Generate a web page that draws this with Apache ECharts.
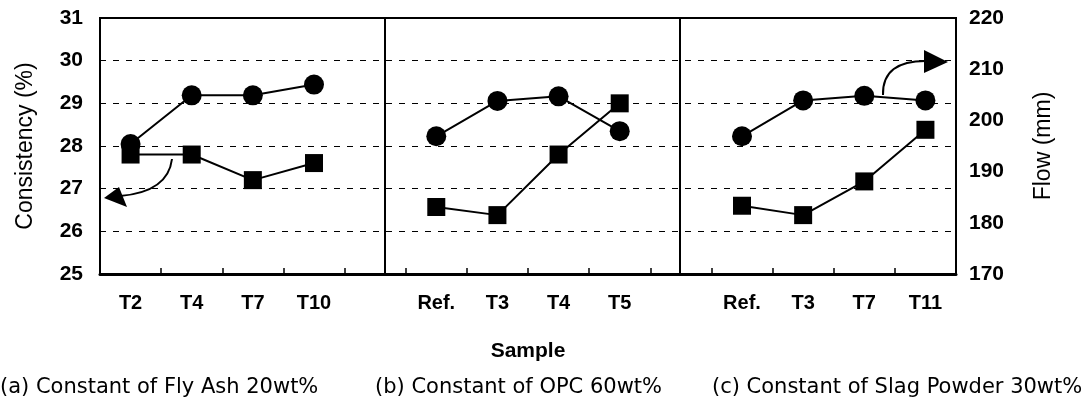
<!DOCTYPE html>
<html><head><meta charset="utf-8">
<script src="https://cdn.jsdelivr.net/npm/echarts@6/dist/echarts.min.js"></script>
<style>html,body{margin:0;padding:0;background:#fff}#c{width:1083px;height:407px}</style>
</head><body><div id="c"></div>
<script>
// Panel categories
const catsA = ['T2', 'T4', 'T7', 'T10'];
const catsB = ['Ref.', 'T3', 'T4', 'T5'];
const catsC = ['Ref.', 'T3', 'T7', 'T11'];
// Consistency (%) - squares, left axis
const consA = [27.8, 27.8, 27.2, 27.6];
const consB = [26.57, 26.38, 27.8, 29.0];
const consC = [26.6, 26.38, 27.17, 28.38];
// Flow (mm) - circles, right axis
const flowA = [195.4, 204.9, 204.9, 207.0];
const flowB = [196.9, 203.8, 204.7, 197.9];
const flowC = [196.9, 203.9, 204.8, 203.9];
// Left / right axis ticks
const leftTicks = {min: 25, max: 31, interval: 1};
const rightTicks = {min: 170, max: 220, interval: 10};
// Panel divider positions (in category units, 0..14)
const dividers = [4.65, 9.48];
const captions = ['(a) Constant of Fly Ash 20wt%', '(b) Constant of OPC 60wt%', '(c) Constant of Slag Powder 30wt%'];

const cats = [...catsA, '', ...catsB, '', ...catsC];
const cons = [...consA, null, ...consB, null, ...consC];
const flow = [...flowA, null, ...flowB, null, ...flowC];

const chart = echarts.init(document.getElementById('c'), null, {renderer: 'canvas'});
const sans = 'Liberation Sans, Arial, sans-serif';
const capFont = 'DejaVu Sans, sans-serif';
chart.setOption({
  backgroundColor: '#fff',
  animation: false,
  grid: {left: 100, right: 127, top: 18, bottom: 133, show: true, borderColor: '#000', borderWidth: 2, backgroundColor: 'transparent'},
  xAxis: [{
    type: 'category', data: cats, boundaryGap: true,
    name: 'Sample', nameLocation: 'middle', nameGap: 67,
    nameTextStyle: {fontSize: 21, fontWeight: 'bold', color: '#000', fontFamily: sans},
    axisLine: {show: true, lineStyle: {color: '#000', width: 3}},
    axisTick: {show: true, inside: true, length: 6, interval: 0, lineStyle: {color: '#000', width: 1.5}},
    axisLabel: {interval: 0, margin: 19, fontSize: 20, fontWeight: 'bold', color: '#000', fontFamily: sans},
    splitLine: {show: false}
  }, {
    type: 'value', min: 0, max: 14, show: false
  }],
  yAxis: [{
    type: 'value', min: leftTicks.min, max: leftTicks.max, interval: leftTicks.interval,
    name: 'Consistency (%)', nameLocation: 'middle', nameGap: 63,
    nameTextStyle: {fontSize: 23, color: '#000', fontFamily: sans},
    axisLine: {show: true, lineStyle: {color: '#000', width: 2}},
    axisTick: {show: false},
    axisLabel: {margin: 17, fontSize: 21, fontWeight: 'bold', color: '#000', fontFamily: sans},
    splitLine: {show: true, lineStyle: {color: '#000', width: 1, type: [6, 7]}}
  }, {
    type: 'value', min: rightTicks.min, max: rightTicks.max, interval: rightTicks.interval,
    position: 'right',
    name: 'Flow (mm)', nameLocation: 'middle', nameGap: 76,
    nameTextStyle: {fontSize: 23, color: '#000', fontFamily: sans},
    axisLine: {show: true, lineStyle: {color: '#000', width: 2}},
    axisTick: {show: false},
    axisLabel: {margin: 13, fontSize: 21, fontWeight: 'bold', color: '#000', fontFamily: sans},
    splitLine: {show: false}
  }],
  series: [{
    type: 'line', name: 'Consistency', xAxisIndex: 0, yAxisIndex: 0, data: cons,
    symbol: 'rect', symbolSize: 18, connectNulls: false,
    lineStyle: {color: '#000', width: 2}, itemStyle: {color: '#000'}, z: 3
  }, {
    type: 'line', name: 'Flow', xAxisIndex: 0, yAxisIndex: 1, data: flow,
    symbol: 'circle', symbolSize: 20, connectNulls: false,
    lineStyle: {color: '#000', width: 2}, itemStyle: {color: '#000'}, z: 3
  }, {
    type: 'scatter', xAxisIndex: 1, yAxisIndex: 0, data: [], symbolSize: 0, silent: true,
    markLine: {silent: true, symbol: 'none', label: {show: false},
      lineStyle: {color: '#000', width: 2, type: 'solid'},
      data: dividers.map(d => ({xAxis: d}))}
  }],
  graphic: [
    // arrow (a) pointing to left axis
    {type: 'bezierCurve', shape: {x1: 172, y1: 159, cpx1: 168, cpy1: 192, x2: 120, y2: 196}, style: {stroke: '#000', lineWidth: 2, fill: null}, z: 10},
    {type: 'polygon', shape: {points: [[104, 198], [119, 187], [127, 207]]}, style: {fill: '#000'}, z: 10},
    // arrow (c) pointing to right axis
    {type: 'bezierCurve', shape: {x1: 883, y1: 95, cpx1: 882, cpy1: 60, x2: 928, y2: 61}, style: {stroke: '#000', lineWidth: 2, fill: null}, z: 10},
    {type: 'polygon', shape: {points: [[948, 62], [924, 50], [924, 73]]}, style: {fill: '#000'}, z: 10},
    {type: 'text', left: 0, top: 377, style: {text: captions[0], fontSize: 21, fill: '#000', fontFamily: capFont}},
    {type: 'text', left: 375, top: 377, style: {text: captions[1], fontSize: 21, fill: '#000', fontFamily: capFont}},
    {type: 'text', left: 712, top: 377, style: {text: captions[2], fontSize: 21, fill: '#000', fontFamily: capFont}}
  ]
});
</script></body></html>
